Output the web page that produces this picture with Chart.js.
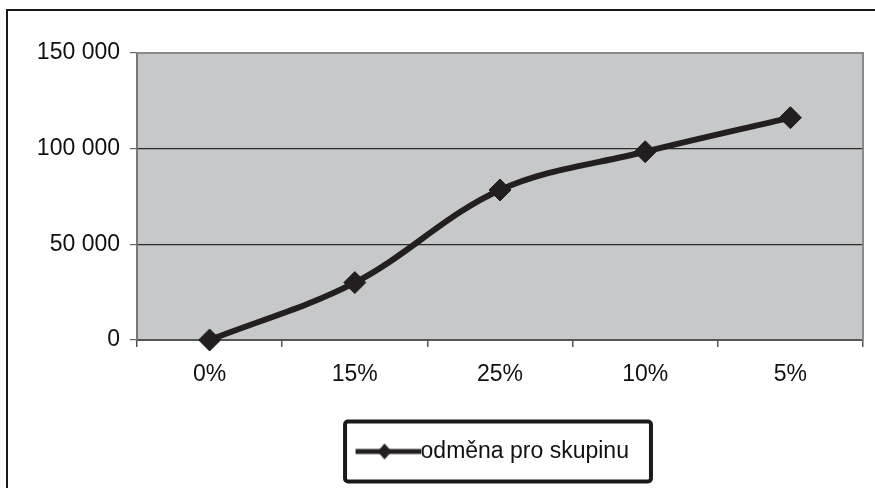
<!DOCTYPE html>
<html>
<head>
<meta charset="utf-8">
<script src="https://cdn.jsdelivr.net/npm/chart.js@4.4.1/dist/chart.umd.min.js"></script>
<style>
  html, body { margin: 0; padding: 0; background: #fff; }
  #wrap { width: 875px; height: 488px; }
</style>
</head>
<body>
<div id="wrap"><canvas id="myChart" width="875" height="488"></canvas></div>
<script>
const categories = ['0%', '15%', '25%', '10%', '5%'];
const reward = [0, 30000, 78400, 98400, 116200];
const seriesName = 'odměna pro skupinu';
const yTicks = [0, 50000, 100000, 150000];

const FONT = "'Liberation Sans', Arial, sans-serif";
const INK = '#231f20';

// legend sample: line with a diamond, drawn into a small canvas
function legendSample() {
    const c = document.createElement('canvas');
    c.width = 77; c.height = 18;
    const g = c.getContext('2d');
    g.strokeStyle = INK;
    g.lineWidth = 5;
    g.beginPath();
    g.moveTo(12, 9); g.lineTo(77, 9);
    g.stroke();
    g.fillStyle = INK;
    g.beginPath();
    g.moveTo(41, 1); g.lineTo(48, 9); g.lineTo(41, 17); g.lineTo(34, 9);
    g.closePath();
    g.fill();
    return c;
}

function fmt(v) {
    return String(v).replace(/\B(?=(\d{3})+(?!\d))/g, ' ');
}

const frame = {
    id: 'frame',
    afterLayout(chart) {
        // excel centres the legend a bit left of the plot centre
        const lg = chart.legend;
        lg.left -= 8; lg.right -= 8;
        lg.legendHitBoxes.forEach(hb => { hb.left -= 8; });
    },
    beforeDraw(chart) {
        const ctx = chart.ctx;
        const a = chart.chartArea;
        ctx.save();
        ctx.fillStyle = '#fff';
        ctx.fillRect(0, 0, chart.width, chart.height);
        // outer chart border (cut at right and bottom)
        ctx.strokeStyle = '#1a1a1a';
        ctx.lineWidth = 2;
        ctx.beginPath();
        ctx.moveTo(7, chart.height);
        ctx.lineTo(7, 10);
        ctx.lineTo(chart.width, 10);
        ctx.stroke();
        // plot area
        ctx.fillStyle = '#c7c8ca';
        ctx.fillRect(a.left, a.top, a.right - a.left, a.bottom - a.top);
        ctx.restore();
    },
    beforeDatasetsDraw(chart) {
        const ctx = chart.ctx;
        const a = chart.chartArea;
        ctx.save();
        ctx.strokeStyle = '#8a8a8a';
        ctx.lineWidth = 2;
        ctx.beginPath();
        ctx.moveTo(a.left, a.top);
        ctx.lineTo(a.right, a.top);
        ctx.lineTo(a.right, a.bottom);
        ctx.stroke();
        ctx.restore();
    },
    afterDraw(chart) {
        const hb = chart.legend.legendHitBoxes[0];
        if (!hb) return;
        const ctx = chart.ctx;
        const cy = hb.top + hb.height / 2;
        ctx.save();
        ctx.strokeStyle = '#1a1a1a';
        ctx.lineWidth = 4;
        ctx.beginPath();
        ctx.roundRect(hb.left - 10, cy - 30, hb.width + 32, 60, 3);
        ctx.stroke();
        ctx.restore();
    }
};

new Chart(document.getElementById('myChart'), {
    type: 'line',
    data: {
        labels: categories,
        datasets: [{
            label: seriesName,
            data: reward,
            borderColor: INK,
            backgroundColor: INK,
            borderWidth: 6,
            tension: 0.35,
            pointStyle: 'rectRot',
            pointRadius: 11,
            pointBorderWidth: 1,
            pointBackgroundColor: INK,
            pointBorderColor: INK,
            clip: false
        }]
    },
    options: {
        responsive: false,
        animation: false,
        devicePixelRatio: 1,
        layout: { padding: { top: 53, right: 12, bottom: 15, left: 0 } },
        plugins: {
            legend: {
                position: 'bottom',
                fullSize: false,
                labels: {
                    usePointStyle: true,
                    pointStyle: legendSample(),
                    pointStyleWidth: 54,
                    padding: 20,
                    color: '#111',
                    font: { family: FONT, size: 23 },
                    generateLabels(chart) {
                        const items = Chart.defaults.plugins.legend.labels.generateLabels(chart);
                        items.forEach(it => { it.pointStyle = chart.options.plugins.legend.labels.pointStyle; });
                        return items;
                    }
                }
            },
            tooltip: { enabled: false }
        },
        scales: {
            x: {
                offset: true,
                grid: {
                    offset: true,
                    drawOnChartArea: false,
                    drawTicks: true,
                    tickLength: 7,
                    tickColor: '#555',
                    lineWidth: 1.5
                },
                border: { color: '#555', width: 2 },
                ticks: {
                    padding: 14,
                    color: '#111',
                    font: { family: FONT, size: 23 }
                },
                afterFit(scale) { scale.height = 80; }
            },
            y: {
                min: 0,
                max: 150000,
                afterBuildTicks(scale) { scale.ticks = yTicks.map(v => ({ value: v })); },
                grid: {
                    color: '#2a2a2a',
                    lineWidth: 1.2,
                    tickLength: 7,
                    tickColor: '#666'
                },
                border: { color: '#777', width: 2 },
                ticks: {
                    padding: 10,
                    color: '#111',
                    font: { family: FONT, size: 23 },
                    callback: v => fmt(v)
                },
                afterFit(scale) { scale.width = 137; }
            }
        }
    },
    plugins: [frame]
});
</script>
</body>
</html>
